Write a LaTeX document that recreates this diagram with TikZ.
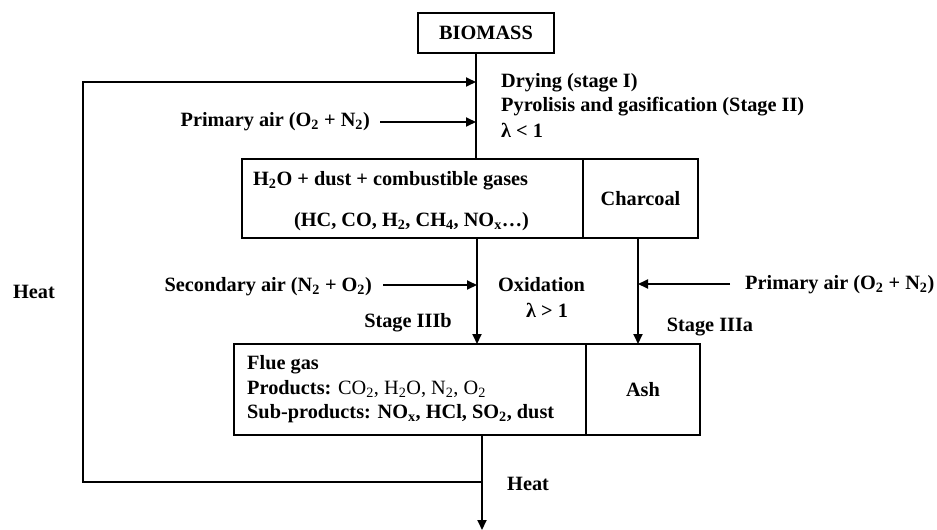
\documentclass[tikz,border=0pt]{standalone}
\usepackage{fontspec}
\setmainfont{Liberation Serif}
\usetikzlibrary{arrows.meta}
\newcommand{\sbs}[1]{\textsubscript{#1}}
\begin{document}
\begin{tikzpicture}[x=1pt,y=-1pt,
  every node/.style={font=\fontsize{20.3}{24}\selectfont\bfseries, inner sep=0pt},
  box/.style={draw, line width=1.9pt},
  ln/.style={line width=1.9pt},
  arr/.style={line width=1.9pt, -{Triangle[length=10pt,width=9pt]}}]
\useasboundingbox (0,0) rectangle (937,530);
% boxes
\node[box, minimum width=136pt, minimum height=40pt] (bio) at (486,33) {BIOMASS};
\node[box, minimum width=341pt, minimum height=79pt] (gas) at (412.5,198.5) {};
\node[box, minimum width=115pt, minimum height=79pt] (char) at (640.5,198.5) {Charcoal};
\node[box, minimum width=352pt, minimum height=91pt] (flue) at (410,389.5) {};
\node[box, minimum width=114pt, minimum height=91pt] (ash) at (643,389.5) {Ash};
% box texts
\node[anchor=west] (g1) at (253,181) {H\sbs{2}O + dust + combustible gases};
\node (g2) at (411.5,222) {(HC, CO, H\sbs{2}, CH\sbs{4}, NO\sbs{x}\ldots)};
\node[anchor=west] (f1) at (247,365) {Flue gas};
\node[anchor=west] (f2) at (247,389) {Products: \mdseries CO\sbs{2}, H\sbs{2}O, N\sbs{2}, O\sbs{2}};
\node[anchor=west] (f3) at (247,414) {Sub-products: NO\sbs{x}, HCl, SO\sbs{2}, dust};
% labels
\node[anchor=west] (dry) at (501,83) {Drying (stage I)};
\node[anchor=west] (pyr) at (501,107) {Pyrolisis and gasification (Stage II)};
\node[anchor=west] (lam1) at (501,130) {λ < 1};
\node[anchor=east] (pa1) at (370,122) {Primary air (O\sbs{2} + N\sbs{2})};
\node[anchor=east] (sa) at (372,287) {Secondary air (N\sbs{2} + O\sbs{2})};
\node[anchor=west] (pa2) at (745,285) {Primary air (O\sbs{2} + N\sbs{2})};
\node (ox) at (541.5,285) {Oxidation};
\node (lam2) at (547,310) {λ > 1};
\node (s3b) at (408,323) {Stage IIIb};
\node (s3a) at (710,327) {Stage IIIa};
\node (heatL) at (34,292) {Heat};
\node[anchor=west] (heatB) at (507,484) {Heat};
% coordinates
\coordinate (bioOut) at (476,53);
\coordinate (gasIn) at (476,159);
\coordinate (loopIn) at (476,82);
\coordinate (paIn) at (476,122);
\coordinate (paStart) at (380,122);
\coordinate (gasOut) at (477,238);
\coordinate (flueIn) at (477,344);
\coordinate (charOut) at (638,238);
\coordinate (ashIn) at (638,344);
\coordinate (saStart) at (383,285);
\coordinate (saEnd) at (477,285);
\coordinate (pa2Start) at (730,284);
\coordinate (pa2End) at (638,284);
\coordinate (flueOut) at (482,435);
\coordinate (exitEnd) at (482,530);
\coordinate (hb) at (482,482);
\coordinate (bl) at (83,482);
\coordinate (tl) at (83,82);
% connectors
\draw[ln] (bioOut) -- (gasIn);
\draw[arr] (hb) -- (bl) -- (tl) -- (loopIn);
\draw[arr] (paStart) -- (paIn);
\draw[arr] (gasOut) -- (flueIn);
\draw[arr] (charOut) -- (ashIn);
\draw[arr] (saStart) -- (saEnd);
\draw[arr] (pa2Start) -- (pa2End);
\draw[arr] (flueOut) -- (exitEnd);
\end{tikzpicture}
\end{document}
